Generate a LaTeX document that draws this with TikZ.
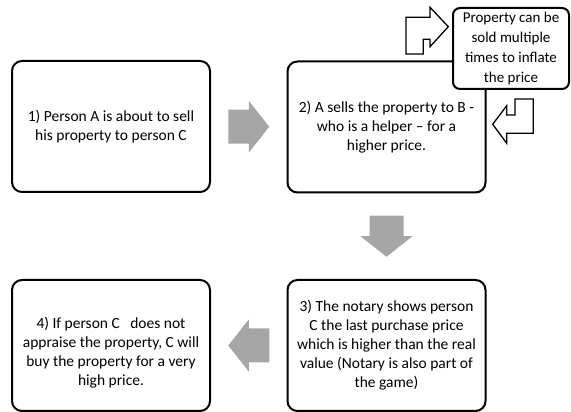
\documentclass[tikz,border=0pt]{standalone}
\usepackage{fontspec}
\setmainfont{Carlito}
\usetikzlibrary{calc}
\usetikzlibrary{positioning}
\definecolor{arrowgray}{RGB}{166,166,166}
\tikzset{
  stepbox/.style={draw=black,line width=2pt,rounded corners=10pt,fill=white,
    minimum width=198pt,minimum height=131pt,align=center,
    font=\fontsize{15.5}{19}\selectfont},
  notebox/.style={draw=black,line width=2pt,rounded corners=7pt,fill=white,
    minimum width=116pt,minimum height=81pt,align=center,
    font=\fontsize{15}{20}\selectfont},
  bentarrow/.style={draw=black,fill=white,line width=1.3pt,line join=miter},
}
\begin{document}
\begin{tikzpicture}[x=1pt,y=1pt]
  \tikzset{
    blockarrow/.pic={
      \fill[pic actions,rotate=#1]
        (-20.5,-17) -- (0,-17) -- (0,-26) -- (20.5,0)
        -- (0,26) -- (0,17) -- (-20.5,17) -- cycle;
    },
  }
  \useasboundingbox (0,0) rectangle (571,412);
  %STEP BOXES
  \node[stepbox] (step1) at (111,285.5) {1) Person A is about to sell\\his property to person C};
  \node[stepbox] (step2) at (386.5,285) {2) A sells the property to B -\\who is a helper – for a\\higher price.};
  \node[stepbox] (step3) at (386.5,66.5) {3) The notary shows person\\C the last purchase price\\which is higher than the real\\value (Notary is also part of\\the game)};
  \node[stepbox] (step4) at (111,66.5) {\rule{0pt}{26pt}4) If person C\ \ \ does not\\appraise the property, C will\\buy the property for a very\\high price.};
  %NOTE
  \node[notebox] (note) at (511,363.5) {Property can be\\sold multiple\\times to inflate\\the price};
  %GRAY ARROWS
  \coordinate (a12) at ($(step1.east)!0.5!(step2.west)$);
  \coordinate (a23) at ($(step2.south)!0.5!(step3.north)$);
  \coordinate (a34) at ($(step3.west)!0.5!(step4.east)$);
  \fill[arrowgray] (a12) pic {blockarrow=0};
  \fill[arrowgray] (a23) pic {blockarrow=-90};
  \fill[arrowgray] (a34) pic {blockarrow=180};
  %BENT ARROW TO NOTE
  \draw[bentarrow] (406,358) -- (406,394.7) -- (430,394.7) -- (430,404.7)
    -- (448.3,385.3) -- (430,365.3) -- (430,372.7) -- (423.3,372.7)
    -- (423.3,358) -- cycle;
  %BENT ARROW BACK
  \draw[bentarrow] (492.7,287.7) -- (506.7,306.3) -- (506.7,297) -- (515,297)
    -- (515,313) -- (533.3,313) -- (533.3,278.7) -- (506.7,278.7)
    -- (506.7,268.7) -- cycle;
\end{tikzpicture}
\end{document}
